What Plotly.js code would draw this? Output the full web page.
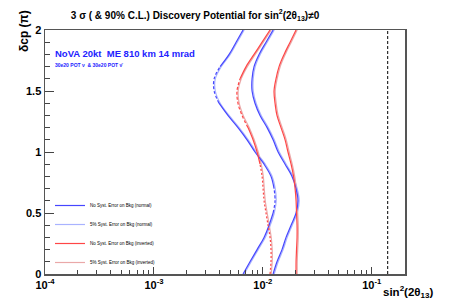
<!DOCTYPE html>
<html><head><meta charset="utf-8">
<script src="https://cdn.plot.ly/plotly-3.0.1.min.js"></script>
<style>html,body{margin:0;padding:0;background:#fff}#chart{width:450px;height:305px}</style>
</head><body><div id="chart"></div>
<script>
// delta_CP in units of pi
const deltaCP = [0.0,0.1,0.2,0.3,0.4,0.5,0.6,0.7,0.8,0.9,1.0,1.1,1.2,1.3,1.4,1.5,1.6,1.7,1.8,1.9,2.0];
// 90% C.L. curves (left pair)
const nh90NoSyst = [0.00658,0.00762,0.00885,0.01026,0.01140,0.01242,0.01294,0.01267,0.01188,0.01026,0.00847,0.00716,0.00591,0.00478,0.00396,0.00357,0.00357,0.00405,0.00490,0.00568,0.00658];
const nh90Syst5  = [0.00674,0.00781,0.00907,0.01052,0.01169,0.01273,0.01326,0.01299,0.01218,0.01052,0.00868,0.00734,0.00606,0.00490,0.00406,0.00366,0.00366,0.00415,0.00502,0.00582,0.00674];
const ih90NoSyst = [0.01164,0.01188,0.01188,0.01164,0.01116,0.01069,0.01026,0.01005,0.00984,0.00942,0.00885,0.00813,0.00731,0.00644,0.00591,0.00579,0.00618,0.00702,0.00830,0.00984,0.01164];
const ih90Syst5  = [0.01193,0.01218,0.01218,0.01193,0.01144,0.01096,0.01052,0.01030,0.01009,0.00966,0.00907,0.00833,0.00749,0.00660,0.00606,0.00593,0.00633,0.00720,0.00851,0.01009,0.01193];
// 3 sigma curves (right pair)
const nh3sNoSyst = [0.01242,0.01348,0.01499,0.01633,0.01816,0.02018,0.02104,0.02018,0.01853,0.01600,0.01380,0.01242,0.01094,0.00942,0.00847,0.00796,0.00796,0.00830,0.00923,0.01069,0.01242];
const nh3sSyst5  = [0.01273,0.01382,0.01536,0.01674,0.01861,0.02068,0.02157,0.02068,0.01899,0.01640,0.01415,0.01273,0.01121,0.00966,0.00868,0.00816,0.00816,0.00851,0.00946,0.01096,0.01273];
const ih3sNoSyst = [0.02018,0.02018,0.02038,0.02061,0.02061,0.02038,0.02018,0.01977,0.01914,0.01816,0.01701,0.01600,0.01468,0.01348,0.01294,0.01267,0.01320,0.01409,0.01567,0.01778,0.02018];
const ih3sSyst5  = [0.02068,0.02068,0.02089,0.02113,0.02113,0.02089,0.02068,0.02026,0.01962,0.01861,0.01744,0.01640,0.01505,0.01382,0.01326,0.01299,0.01353,0.01444,0.01606,0.01822,0.02068];
// vertical limit line
const limitX = [0.14, 0.14];
const limitY = [0, 2];
// tick labels
const xTickVals = [1e-4, 1e-3, 1e-2, 1e-1];
const xTickText = ['10<sup>-4</sup>','10<sup>-3</sup>','10<sup>-2</sup>','10<sup>-1</sup>'];
const yTickVals = [0, 0.5, 1, 1.5, 2];
const yTickText = ['0','0.5','1','1.5','2'];
const legendNames = ['No Syst. Error on Bkg (normal)','5% Syst. Error on Bkg (normal)','No Syst. Error on Bkg (inverted)','5% Syst. Error on Bkg (inverted)'];

const C_NH = '#4646ff', C_NH5 = '#a9b3ff', C_IH = '#ff4646', C_IH5 = '#eaa8a8';
const W = 1.2;

function seg(xs, ys, a, b, dash, color, name, show, rank) {
  return {
    x: xs.slice(a, b + 1), y: ys.slice(a, b + 1), type: 'scatter', mode: 'lines',
    line: {color: color, width: W, shape: 'spline', smoothing: 1, dash: dash},
    name: name, showlegend: !!show, legendrank: rank || 1000, hoverinfo: 'skip'
  };
}
function segs(xs, ys, list, color) {
  return list.map(s => seg(xs, ys, s[0], s[1], s[2], color, '', false));
}
const solidAll = [[0, 20, 'solid']];
const nh90Segs = [[0,5,'solid'],[5,7,'3px,2px'],[7,14,'solid'],[14,17,'3px,2px'],[17,20,'solid']];
const ih90Segs = [[0,9,'2px,2px'],[9,12,'solid'],[12,16,'3px,2px'],[16,20,'solid']];

const traces = [].concat(
  segs(nh90Syst5, deltaCP, solidAll, C_NH5),
  segs(ih90Syst5, deltaCP, solidAll, C_IH5),
  [seg(nh3sSyst5, deltaCP, 0, 20, 'solid', C_NH5, legendNames[1], true, 2),
   seg(ih3sSyst5, deltaCP, 0, 20, 'solid', C_IH5, legendNames[3], true, 4)],
  segs(nh90NoSyst, deltaCP, nh90Segs, C_NH),
  segs(ih90NoSyst, deltaCP, ih90Segs, C_IH),
  [seg(nh3sNoSyst, deltaCP, 0, 20, 'solid', C_NH, legendNames[0], true, 1),
   seg(ih3sNoSyst, deltaCP, 0, 20, 'solid', C_IH, legendNames[2], true, 3)],
  [{x: limitX, y: limitY, type: 'scatter', mode: 'lines', showlegend: false, hoverinfo: 'skip',
    line: {color: '#000', width: 1, dash: '3px,2px'}}]
);

const minorX = [];
for (let e = -4; e <= -1; e++) for (let d = 2; d <= 9; d++) { const v = d * Math.pow(10, e); if (v <= 0.2) minorX.push(v); }

const F = 'Liberation Sans, Arial, Helvetica, sans-serif';
const px = v => (v - 45) / 360, py = v => (274 - v) / 244;

const layout = {
  width: 450, height: 305,
  margin: {l: 45, r: 45, t: 30, b: 31, pad: 0},
  paper_bgcolor: '#fff', plot_bgcolor: '#fff',
  font: {family: F, color: '#000'},
  showlegend: true,
  title: {text: '<b>3 σ ( & 90% C.L.) Discovery Potential for sin<sup>2</sup>(2θ<sub>13</sub>)≠0</b>',
          font: {family: F, size: 10, color: '#000'}, x: 195 / 450, xref: 'container', xanchor: 'center',
          y: 1 - 15 / 305, yref: 'container', yanchor: 'middle'},
  xaxis: {type: 'log', range: [-4, -0.695], tickmode: 'array', tickvals: xTickVals, ticktext: xTickText,
          ticks: 'inside', ticklen: 7, tickwidth: 1, tickcolor: '#444',
          minor: {ticks: 'inside', ticklen: 4, tickwidth: 1, tickcolor: '#444', tickmode: 'array', tickvals: minorX},
          showline: true, linecolor: '#555', linewidth: 1.5, mirror: true, showgrid: false, zeroline: false,
          tickfont: {family: F, size: 11, weight: 'bold', color: '#000'}},
  yaxis: {range: [0, 2], tickmode: 'array', tickvals: yTickVals, ticktext: yTickText,
          ticks: 'inside', ticklen: 9, tickwidth: 1, tickcolor: '#444',
          minor: {ticks: 'inside', ticklen: 4.5, tickwidth: 1, tickcolor: '#444', dtick: 0.1},
          showline: true, linecolor: '#555', linewidth: 1.5, mirror: true, showgrid: false, zeroline: false,
          tickfont: {family: F, size: 11, weight: 'bold', color: '#000'}},
  legend: {x: px(50), y: py(191), xanchor: 'left', yanchor: 'top', bgcolor: 'rgba(0,0,0,0)',
           font: {family: F, size: 4.5, color: '#000'}, tracegroupgap: 0, traceorder: 'normal'},
  annotations: [
    {text: '<b>NoVA 20kt  ME 810 km 14 mrad</b>', xref: 'paper', yref: 'paper', x: px(53), y: py(53),
     xanchor: 'left', yanchor: 'middle', showarrow: false, font: {family: F, size: 9.5, color: '#2323ff'}},
    {text: '<b>30e20 POT ν  & 30e20 POT ν̄</b>', xref: 'paper', yref: 'paper', x: px(53), y: py(64.5),
     xanchor: 'left', yanchor: 'middle', showarrow: false, font: {family: F, size: 5, color: '#2323ff'}},
    {text: '<b>δcp (π)</b>', xref: 'paper', yref: 'paper', x: px(24), y: py(31), textangle: -90,
     xanchor: 'center', yanchor: 'middle', showarrow: false, font: {family: F, size: 12, color: '#000'}},
    {text: '<b>sin<sup>2</sup>(2θ<sub>13</sub>)</b>', xref: 'paper', yref: 'paper', x: px(436), y: py(292),
     xanchor: 'right', yanchor: 'middle', showarrow: false, font: {family: F, size: 11.5, color: '#000'}}
  ]
};

Plotly.newPlot('chart', traces, layout, {displayModeBar: false, staticPlot: true});
</script></body></html>
